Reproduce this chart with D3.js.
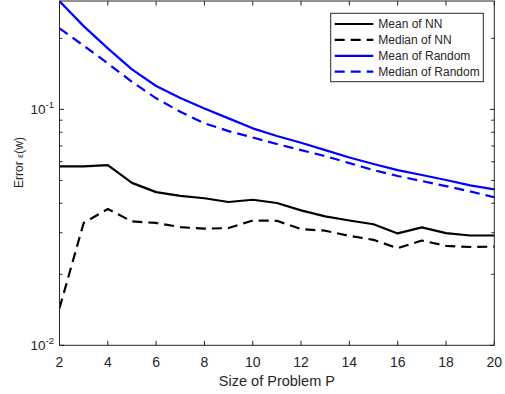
<!DOCTYPE html>
<html>
<head>
<meta charset="utf-8">
<script src="https://cdn.jsdelivr.net/npm/d3@7"></script>
<style>
  body { margin: 0; background: #fff; }
  svg text { font-family: "Liberation Sans", Arial, sans-serif; fill: #262626; }
</style>
</head>
<body>
<svg id="chart" width="505" height="394"></svg>
<script>
// problem sizes on the x axis
const sizes = [2, 3, 4, 5, 6, 7, 8, 9, 10, 11, 12, 13, 14, 15, 16, 17, 18, 19, 20]
const meanNN = [0.0573, 0.0573, 0.058, 0.0488, 0.0446, 0.043, 0.042, 0.0405, 0.0414, 0.0401, 0.0373, 0.0352, 0.0338, 0.0326, 0.0298, 0.0316, 0.0299, 0.0292, 0.0292]
const medianNN = [0.01436, 0.033, 0.0378, 0.0335, 0.033, 0.0317, 0.0312, 0.0314, 0.0338, 0.0337, 0.0311, 0.0306, 0.0291, 0.028, 0.0258, 0.0278, 0.0264, 0.0261, 0.0262]
const meanRandom = [0.2876, 0.2254, 0.1813, 0.1477, 0.1256, 0.1117, 0.1008, 0.0916, 0.0831, 0.0771, 0.0722, 0.0672, 0.0625, 0.0587, 0.0553, 0.0527, 0.0502, 0.0476, 0.0458]
const medianRandom = [0.2205, 0.1863, 0.1566, 0.1309, 0.1114, 0.0977, 0.0873, 0.0809, 0.076, 0.0713, 0.0672, 0.0634, 0.0592, 0.0553, 0.0522, 0.0497, 0.0473, 0.0449, 0.0424]
const xTicks = [2, 4, 6, 8, 10, 12, 14, 16, 18, 20]
const yMajor = [0.01, 0.1]
const yMinor = [0.02, 0.03, 0.04, 0.05, 0.06, 0.07, 0.08, 0.09, 0.2]
const seriesNames = ['Mean of NN', 'Median of NN', 'Mean of Random', 'Median of Random']

const svg = d3.select('#chart')
const m = { left: 59.5, right: 494.3, top: 1, bottom: 345.3 }
const axisColor = '#262626'

const x = d3.scaleLinear().domain([2, 20]).range([m.left, m.right])
const y = d3.scaleLog().domain([0.01, 0.288]).range([m.bottom, m.top])

const series = [
    { name: seriesNames[0], vals: meanNN, color: '#000', dash: null },
    { name: seriesNames[1], vals: medianNN, color: '#000', dash: '10,6' },
    { name: seriesNames[2], vals: meanRandom, color: '#0000ff', dash: null },
    { name: seriesNames[3], vals: medianRandom, color: '#0000ff', dash: '10,6' }
]

svg.append('defs').append('clipPath').attr('id', 'clip')
    .append('rect')
    .attr('x', m.left).attr('y', m.top)
    .attr('width', m.right - m.left).attr('height', m.bottom - m.top)

const line = d3.line()
    .x(d => x(d[0]))
    .y(d => y(d[1]))

const plot = svg.append('g').attr('clip-path', 'url(#clip)')
series.forEach(s => {
    plot.append('path')
        .datum(sizes.map((v, i) => [v, s.vals[i]]))
        .attr('d', line)
        .attr('fill', 'none')
        .attr('stroke', s.color)
        .attr('stroke-width', 2.2)
        .attr('stroke-dasharray', s.dash)
        .attr('stroke-linejoin', 'round')
})

// box axes, ticks pointing inward on all four sides
const majorLen = 4.5, minorLen = 3
const ax = svg.append('g').attr('stroke', axisColor).attr('stroke-width', 1).attr('fill', 'none')
ax.append('rect')
    .attr('x', m.left).attr('y', m.top)
    .attr('width', m.right - m.left).attr('height', m.bottom - m.top)

xTicks.forEach(t => {
    ax.append('line').attr('x1', x(t)).attr('x2', x(t)).attr('y1', m.bottom).attr('y2', m.bottom - majorLen)
    ax.append('line').attr('x1', x(t)).attr('x2', x(t)).attr('y1', m.top).attr('y2', m.top + majorLen)
})
yMajor.forEach(t => {
    ax.append('line').attr('x1', m.left).attr('x2', m.left + majorLen).attr('y1', y(t)).attr('y2', y(t))
    ax.append('line').attr('x1', m.right).attr('x2', m.right - majorLen).attr('y1', y(t)).attr('y2', y(t))
})
yMinor.forEach(t => {
    ax.append('line').attr('x1', m.left).attr('x2', m.left + minorLen).attr('y1', y(t)).attr('y2', y(t))
    ax.append('line').attr('x1', m.right).attr('x2', m.right - minorLen).attr('y1', y(t)).attr('y2', y(t))
})

// tick labels
svg.append('g').selectAll('text')
    .data(xTicks)
    .join('text')
    .attr('x', d => x(d))
    .attr('y', 366.5)
    .attr('text-anchor', 'middle')
    .attr('font-size', 14)
    .text(d => d)

yMajor.forEach(t => {
    const lab = svg.append('text')
        .attr('x', 54)
        .attr('y', y(t) + 5)
        .attr('text-anchor', 'end')
        .attr('font-size', 13.5)
    lab.append('tspan').text('10')
    lab.append('tspan')
        .attr('font-size', 9.5)
        .attr('dy', -6)
        .text(Math.round(Math.log10(t)))
})

svg.append('text')
    .attr('x', (m.left + m.right) / 2)
    .attr('y', 386)
    .attr('text-anchor', 'middle')
    .attr('font-size', 14.5)
    .text('Size of Problem P')

const yl = svg.append('text')
    .attr('transform', 'translate(23,162.5) rotate(-90)')
    .attr('text-anchor', 'middle')
    .attr('font-size', 12)
yl.append('tspan').text('Error ')
yl.append('tspan').attr('font-size', 9.5).text('ε')
yl.append('tspan').text('(w)')

// legend
const lg = svg.append('g')
lg.append('rect')
    .attr('x', 330.7).attr('y', 13.3)
    .attr('width', 152.6).attr('height', 68.4)
    .attr('fill', '#fff')
    .attr('stroke', axisColor)
    .attr('stroke-width', 1)
series.forEach((s, i) => {
    const ry = 24 + i * 15.9
    lg.append('line')
        .attr('x1', 334.7).attr('x2', 373.3)
        .attr('y1', ry).attr('y2', ry)
        .attr('stroke', s.color)
        .attr('stroke-width', 2.2)
        .attr('stroke-dasharray', s.dash)
    lg.append('text')
        .attr('x', 378.3)
        .attr('y', ry + 4.2)
        .attr('font-size', 12)
        .text(s.name)
})
</script>
</body>
</html>
